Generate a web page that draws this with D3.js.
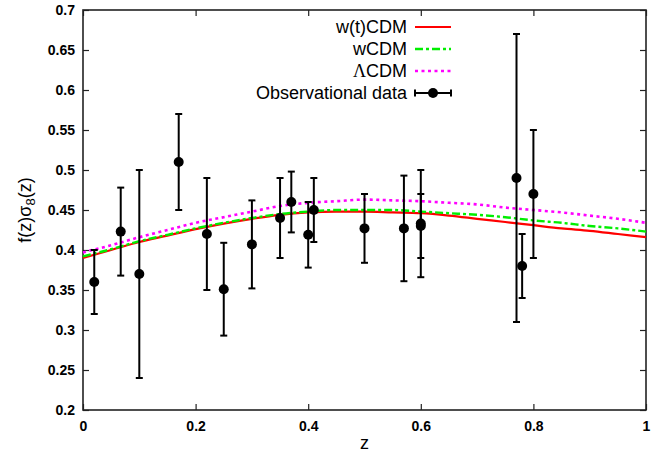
<!DOCTYPE html>
<html>
<head>
<meta charset="utf-8">
<script src="https://cdn.jsdelivr.net/npm/d3@7"></script>
<style>
  body { margin: 0; background: #fff; }
  svg { display: block; }
</style>
</head>
<body>
<svg id="chart" width="665" height="456"></svg>
<script>
// model curves, sampled at z = 0, 0.05, ..., 1
const zGrid = [0, 0.05, 0.1, 0.15, 0.2, 0.25, 0.3, 0.35, 0.4, 0.45, 0.5,
  0.55, 0.6, 0.65, 0.7, 0.75, 0.8, 0.85, 0.9, 0.95, 1.0];
const wtCDM = [0.390, 0.400, 0.410, 0.418, 0.426, 0.433, 0.439, 0.444, 0.447, 0.448, 0.448,
  0.447, 0.446, 0.443, 0.439, 0.435, 0.431, 0.427, 0.424, 0.420, 0.416];
const wCDM = [0.392, 0.401, 0.411, 0.419, 0.427, 0.434, 0.440, 0.445, 0.448, 0.450, 0.450,
  0.450, 0.448, 0.446, 0.444, 0.441, 0.437, 0.434, 0.430, 0.427, 0.423];
const lcdm = [0.397, 0.406, 0.416, 0.425, 0.434, 0.441, 0.448, 0.455, 0.459, 0.461, 0.463,
  0.462, 0.461, 0.459, 0.457, 0.453, 0.450, 0.447, 0.443, 0.439, 0.434];

// observational data
const obsZ = [0.02, 0.067, 0.10, 0.17, 0.22, 0.25, 0.30, 0.35, 0.37, 0.40, 0.41,
  0.50, 0.57, 0.60, 0.60, 0.77, 0.78, 0.80];
const obsF = [0.360, 0.423, 0.370, 0.510, 0.420, 0.351, 0.407, 0.440, 0.460, 0.419, 0.450,
  0.427, 0.427, 0.430, 0.433, 0.490, 0.380, 0.470];
const obsErr = [0.040, 0.055, 0.130, 0.060, 0.070, 0.058, 0.055, 0.050, 0.038, 0.041, 0.040,
  0.043, 0.066, 0.040, 0.067, 0.180, 0.040, 0.080];

const xTicks = [0, 0.2, 0.4, 0.6, 0.8, 1];
const yTicks = d3.range(0.2, 0.7001, 0.05);

const svg = d3.select("#chart");
const m = { left: 83, right: 646, top: 10, bottom: 410 };

const x = d3.scaleLinear().domain([0, 1]).range([m.left, m.right]);
const y = d3.scaleLinear().domain([0.2, 0.7]).range([m.bottom, m.top]);

const tickFont = "'Liberation Sans', Arial, sans-serif";

// axes (ticks inside, mirrored)
const axisColor = "#222";
function styleAxis(g) {
  g.select(".domain").remove();
  g.selectAll(".tick line").attr("stroke", axisColor).attr("stroke-width", 1.2);
  g.selectAll(".tick text").attr("font-family", tickFont).attr("font-weight", "bold")
    .attr("font-size", 14).attr("fill", "#000");
}
svg.append("g").attr("transform", `translate(0,${m.bottom})`)
  .call(d3.axisTop(x).tickValues(xTicks).tickSize(6).tickFormat(""))
  .call(styleAxis);
svg.append("g").attr("transform", `translate(0,${m.bottom})`)
  .call(d3.axisBottom(x).tickValues(xTicks).tickSize(0).tickPadding(11).tickFormat(d3.format("")))
  .call(styleAxis);
svg.append("g").attr("transform", `translate(0,${m.top})`)
  .call(d3.axisBottom(x).tickValues(xTicks).tickSize(6).tickFormat(""))
  .call(styleAxis);
svg.append("g").attr("transform", `translate(${m.left},0)`)
  .call(d3.axisRight(y).tickValues(yTicks).tickSize(6).tickFormat(""))
  .call(styleAxis);
svg.append("g").attr("transform", `translate(${m.left},0)`)
  .call(d3.axisLeft(y).tickValues(yTicks).tickSize(0).tickPadding(8)
    .tickFormat(d => d3.format("")(+d.toFixed(2))))
  .call(styleAxis);
svg.append("g").attr("transform", `translate(${m.right},0)`)
  .call(d3.axisLeft(y).tickValues(yTicks).tickSize(6).tickFormat(""))
  .call(styleAxis);

svg.append("rect")
  .attr("x", m.left).attr("y", m.top)
  .attr("width", m.right - m.left).attr("height", m.bottom - m.top)
  .attr("fill", "none").attr("stroke", axisColor).attr("stroke-width", 1.6);

// axis labels
svg.append("text")
  .attr("x", (m.left + m.right) / 2).attr("y", 449)
  .attr("text-anchor", "middle")
  .attr("font-family", tickFont).attr("font-size", 18)
  .text("z");

const yl = svg.append("text")
  .attr("transform", `translate(31,${(m.top + m.bottom) / 2}) rotate(-90)`)
  .attr("text-anchor", "middle")
  .attr("font-family", tickFont).attr("font-size", 18);
yl.append("tspan").text("f(z)σ");
yl.append("tspan").attr("dy", 4).attr("font-size", 13).text("8");
yl.append("tspan").attr("dy", -4).text("(z)");

// curves
const line = d3.line()
  .x((d, i) => x(zGrid[i]))
  .y(d => y(d))
  .curve(d3.curveMonotoneX);

const series = [
  { name: "w(t)CDM", values: wtCDM, color: "#ff0000", width: 2.2, dash: null },
  { name: "wCDM", values: wCDM, color: "#00ee00", width: 2.4, dash: "8,3,3,3" },
  { name: "ΛCDM", values: lcdm, color: "#ff00ff", width: 2.6, dash: "3,3.5" }
];

const plot = svg.append("g");
series.forEach(s => {
  plot.append("path")
    .attr("d", line(s.values))
    .attr("fill", "none")
    .attr("stroke", s.color)
    .attr("stroke-width", s.width)
    .attr("stroke-dasharray", s.dash);
});

// error bars + points
const obs = obsZ.map((z, i) => ({ z, f: obsF[i], e: obsErr[i] }));
const eb = plot.selectAll(".eb").data(obs).join("g");
eb.append("line")
  .attr("x1", d => x(d.z)).attr("x2", d => x(d.z))
  .attr("y1", d => y(d.f - d.e)).attr("y2", d => y(d.f + d.e))
  .attr("stroke", "#000").attr("stroke-width", 2);
[-1, 1].forEach(sgn => {
  eb.append("line")
    .attr("x1", d => x(d.z) - 3.5).attr("x2", d => x(d.z) + 3.5)
    .attr("y1", d => y(d.f + sgn * d.e)).attr("y2", d => y(d.f + sgn * d.e))
    .attr("stroke", "#000").attr("stroke-width", 2);
});
eb.append("circle")
  .attr("cx", d => x(d.z)).attr("cy", d => y(d.f))
  .attr("r", 5).attr("fill", "#000");

// legend
const legend = svg.append("g");
const lgTextX = 407, lgX1 = 415, lgX2 = 451;
const rowY = [27, 49, 71, 93];
series.forEach((s, i) => {
  const t = legend.append("text")
    .attr("x", lgTextX).attr("y", rowY[i] + 6)
    .attr("text-anchor", "end")
    .attr("font-family", tickFont).attr("font-size", 18);
  if (s.name.startsWith("Λ")) {
    t.append("tspan").attr("font-family", "'Liberation Serif', serif").text("Λ");
    t.append("tspan").text(s.name.slice(1));
  } else {
    t.text(s.name);
  }
  legend.append("line")
    .attr("x1", lgX1).attr("x2", lgX2)
    .attr("y1", rowY[i]).attr("y2", rowY[i])
    .attr("stroke", s.color).attr("stroke-width", s.width)
    .attr("stroke-dasharray", s.dash);
});
legend.append("text")
  .attr("x", lgTextX).attr("y", rowY[3] + 6)
  .attr("text-anchor", "end")
  .attr("font-family", tickFont).attr("font-size", 18)
  .text("Observational data");
legend.append("line")
  .attr("x1", lgX1).attr("x2", lgX2).attr("y1", rowY[3]).attr("y2", rowY[3])
  .attr("stroke", "#000").attr("stroke-width", 2);
[lgX1, lgX2].forEach(px => {
  legend.append("line")
    .attr("x1", px).attr("x2", px).attr("y1", rowY[3] - 3.5).attr("y2", rowY[3] + 3.5)
    .attr("stroke", "#000").attr("stroke-width", 2);
});
legend.append("circle")
  .attr("cx", (lgX1 + lgX2) / 2).attr("cy", rowY[3]).attr("r", 5).attr("fill", "#000");
</script>
</body>
</html>
